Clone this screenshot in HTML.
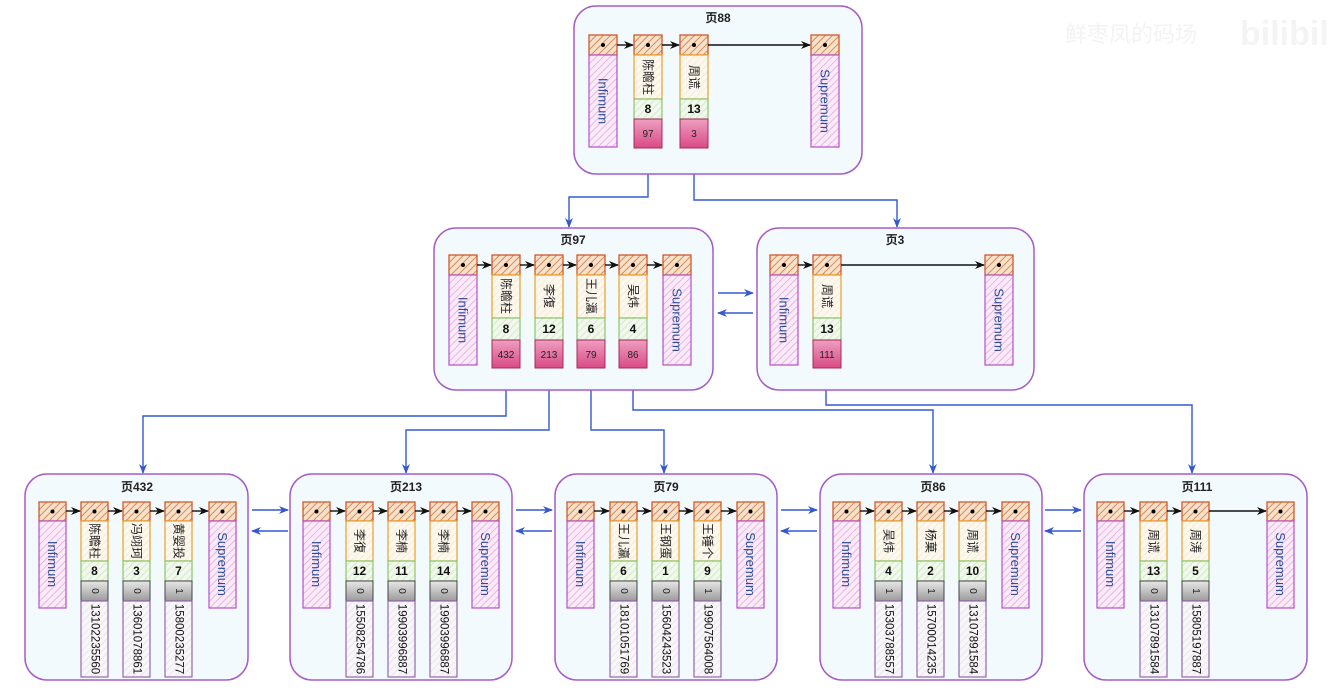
<!DOCTYPE html>
<html><head><meta charset="utf-8"><style>
html,body{margin:0;padding:0;background:#fff;}
svg{display:block;font-family:"Liberation Sans","Noto Sans CJK SC",sans-serif;}
.pg{fill:#f3fafe;stroke:#a65cc6;stroke-width:1.5;}
.h{fill:url(#ho);stroke:#d4582a;stroke-width:1.3;}
.inf{fill:url(#hp);stroke:#b552c8;stroke-width:1.2;}
.nm{fill:url(#hy);stroke:#e8a22a;stroke-width:1.2;}
.gr{fill:url(#hg);stroke:#8cc46c;stroke-width:1.2;}
.pk{fill:url(#pk);stroke:#a82a58;stroke-width:1;}
.gy{fill:url(#gy);stroke:#444;stroke-width:1;}
.ph{fill:url(#hl);stroke:#8a5aa8;stroke-width:1.1;}
.t{font-size:12px;fill:#222;}
.b{font-size:12px;font-weight:bold;fill:#111;}
.s{font-size:10px;fill:#222;}
.ph + text{font-size:11.5px;fill:#111;}
.bl{font-size:13px;fill:#2a4e9a;}
.ti{font-size:12px;fill:#222;font-weight:bold;}
.lk{stroke:#111;stroke-width:1.4;fill:none;marker-end:url(#ab);}
.cn{stroke:#3358d0;stroke-width:1.4;fill:none;marker-end:url(#au);}
</style></head><body>
<svg width="1331" height="690" viewBox="0 0 1331 690" xmlns="http://www.w3.org/2000/svg">
<defs>
<pattern id="ho" width="5" height="5" patternUnits="userSpaceOnUse" patternTransform="rotate(45)"><rect width="5" height="5" fill="#f6e2cc"/><line x1="0" y1="0" x2="0" y2="5" stroke="#d98a52" stroke-width="2"/></pattern>
<pattern id="hp" width="5" height="5" patternUnits="userSpaceOnUse" patternTransform="rotate(45)"><rect width="5" height="5" fill="#fbeaf8"/><line x1="0" y1="0" x2="0" y2="5" stroke="#e2a6df" stroke-width="1.5"/></pattern>
<pattern id="hy" width="5" height="5" patternUnits="userSpaceOnUse" patternTransform="rotate(45)"><rect width="5" height="5" fill="#fdf8ee"/><line x1="0" y1="0" x2="0" y2="5" stroke="#f1e4cc" stroke-width="1.2"/></pattern>
<pattern id="hg" width="5" height="5" patternUnits="userSpaceOnUse" patternTransform="rotate(45)"><rect width="5" height="5" fill="#f1f8ec"/><line x1="0" y1="0" x2="0" y2="5" stroke="#cfe3c3" stroke-width="1.5"/></pattern>
<pattern id="hl" width="5" height="5" patternUnits="userSpaceOnUse" patternTransform="rotate(45)"><rect width="5" height="5" fill="#f8f6f8"/><line x1="0" y1="0" x2="0" y2="5" stroke="#e2dde2" stroke-width="1.2"/></pattern>
<linearGradient id="pk" x1="0" y1="0" x2="0" y2="1"><stop offset="0" stop-color="#ee9fc0"/><stop offset="1" stop-color="#d94a86"/></linearGradient>
<linearGradient id="gy" x1="0" y1="0" x2="0" y2="1"><stop offset="0" stop-color="#e8e8e8"/><stop offset="1" stop-color="#9a9a9a"/></linearGradient>
<marker id="ab" markerWidth="10" markerHeight="8" refX="9" refY="4" orient="auto" markerUnits="userSpaceOnUse"><path d="M0,0 L10,4 L0,8 L3,4 z" fill="#111"/></marker>
<marker id="au" markerWidth="10" markerHeight="8" refX="9" refY="4" orient="auto" markerUnits="userSpaceOnUse"><path d="M0,0 L10,4 L0,8 L3,4 z" fill="#3358d0"/></marker>
</defs>

<text x="1065" y="42" font-size="22" fill="#f3f3f3">鲜枣凤的码场</text>
<text x="1240" y="45" font-size="34" font-weight="bold" fill="#f4f4f4">bilibili</text>

<path class="cn" d="M648,148 V197 H569 V227"/>
<path class="cn" d="M694,148 V200 H897 V227"/>
<path class="cn" d="M506,368 V416 H143 V473"/>
<path class="cn" d="M549,368 V430 H406 V473"/>
<path class="cn" d="M591,368 V430 H664 V473"/>
<path class="cn" d="M633,368 V410 H933 V473"/>
<path class="cn" d="M826,368 V405 H1192 V473"/>
<path class="cn" d="M718,293 H753"/><path class="cn" d="M753,313 H718"/>
<path class="cn" d="M252,510 H288"/><path class="cn" d="M288,531 H252"/>
<path class="cn" d="M516,510 H552"/><path class="cn" d="M552,531 H516"/>
<path class="cn" d="M781,510 H817"/><path class="cn" d="M817,531 H781"/>
<path class="cn" d="M1045,510 H1081"/><path class="cn" d="M1081,531 H1045"/>

<rect class="pg" x="574" y="6" width="288" height="168" rx="22"/>
<text class="ti" x="718" y="22" text-anchor="middle">页88</text>
<g transform="translate(589,35)"><rect class="h" width="28" height="20"/><circle cx="14" cy="10" r="2" fill="#000"/><rect class="inf" y="20" width="28" height="92"/><text class="bl" transform="translate(14,66) rotate(90)" text-anchor="middle" dominant-baseline="central">Infimum</text></g>
<g transform="translate(634,35)"><rect class="h" width="28" height="20"/><circle cx="14" cy="10" r="2" fill="#000"/><rect class="nm" y="20" width="28" height="44"/><text class="t" transform="translate(14,42) rotate(90)" text-anchor="middle" dominant-baseline="central">陈瞻柱</text><rect class="gr" y="64" width="28" height="20"/><text class="b" x="14" y="78" text-anchor="middle">8</text><rect class="pk" y="84" width="28" height="29"/><text class="s" x="14" y="102" text-anchor="middle">97</text></g>
<g transform="translate(680,35)"><rect class="h" width="28" height="20"/><circle cx="14" cy="10" r="2" fill="#000"/><rect class="nm" y="20" width="28" height="44"/><text class="t" transform="translate(14,42) rotate(90)" text-anchor="middle" dominant-baseline="central">周谎</text><rect class="gr" y="64" width="28" height="20"/><text class="b" x="14" y="78" text-anchor="middle">13</text><rect class="pk" y="84" width="28" height="29"/><text class="s" x="14" y="102" text-anchor="middle">3</text></g>
<g transform="translate(811,35)"><rect class="h" width="28" height="20"/><circle cx="14" cy="10" r="2" fill="#000"/><rect class="inf" y="20" width="28" height="92"/><text class="bl" transform="translate(14,66) rotate(90)" text-anchor="middle" dominant-baseline="central">Supremum</text></g>
<path class="lk" d="M617,45 H633"/><path class="lk" d="M662,45 H679"/><path class="lk" d="M708,45 H810"/>

<rect class="pg" x="434" y="228" width="279" height="162" rx="22"/>
<text class="ti" x="573" y="244" text-anchor="middle">页97</text>
<g transform="translate(449,255)"><rect class="h" width="28" height="20"/><circle cx="14" cy="10" r="2" fill="#000"/><rect class="inf" y="20" width="28" height="90"/><text class="bl" transform="translate(14,65) rotate(90)" text-anchor="middle" dominant-baseline="central">Infimum</text></g>
<g transform="translate(492,255)"><rect class="h" width="28" height="20"/><circle cx="14" cy="10" r="2" fill="#000"/><rect class="nm" y="20" width="28" height="43"/><text class="t" transform="translate(14,41) rotate(90)" text-anchor="middle" dominant-baseline="central">陈瞻柱</text><rect class="gr" y="63" width="28" height="22"/><text class="b" x="14" y="78" text-anchor="middle">8</text><rect class="pk" y="85" width="28" height="28"/><text class="s" x="14" y="103" text-anchor="middle">432</text></g>
<g transform="translate(535,255)"><rect class="h" width="28" height="20"/><circle cx="14" cy="10" r="2" fill="#000"/><rect class="nm" y="20" width="28" height="43"/><text class="t" transform="translate(14,41) rotate(90)" text-anchor="middle" dominant-baseline="central">李復</text><rect class="gr" y="63" width="28" height="22"/><text class="b" x="14" y="78" text-anchor="middle">12</text><rect class="pk" y="85" width="28" height="28"/><text class="s" x="14" y="103" text-anchor="middle">213</text></g>
<g transform="translate(577,255)"><rect class="h" width="28" height="20"/><circle cx="14" cy="10" r="2" fill="#000"/><rect class="nm" y="20" width="28" height="43"/><text class="t" transform="translate(14,41) rotate(90)" text-anchor="middle" dominant-baseline="central">王儿瀛</text><rect class="gr" y="63" width="28" height="22"/><text class="b" x="14" y="78" text-anchor="middle">6</text><rect class="pk" y="85" width="28" height="28"/><text class="s" x="14" y="103" text-anchor="middle">79</text></g>
<g transform="translate(619,255)"><rect class="h" width="28" height="20"/><circle cx="14" cy="10" r="2" fill="#000"/><rect class="nm" y="20" width="28" height="43"/><text class="t" transform="translate(14,41) rotate(90)" text-anchor="middle" dominant-baseline="central">吴炜</text><rect class="gr" y="63" width="28" height="22"/><text class="b" x="14" y="78" text-anchor="middle">4</text><rect class="pk" y="85" width="28" height="28"/><text class="s" x="14" y="103" text-anchor="middle">86</text></g>
<g transform="translate(663,255)"><rect class="h" width="28" height="20"/><circle cx="14" cy="10" r="2" fill="#000"/><rect class="inf" y="20" width="28" height="90"/><text class="bl" transform="translate(14,65) rotate(90)" text-anchor="middle" dominant-baseline="central">Supremum</text></g>
<path class="lk" d="M477,265 H491"/><path class="lk" d="M520,265 H534"/><path class="lk" d="M563,265 H576"/><path class="lk" d="M605,265 H618"/><path class="lk" d="M647,265 H662"/>

<rect class="pg" x="757" y="228" width="277" height="162" rx="22"/>
<text class="ti" x="895" y="244" text-anchor="middle">页3</text>
<g transform="translate(770,255)"><rect class="h" width="28" height="20"/><circle cx="14" cy="10" r="2" fill="#000"/><rect class="inf" y="20" width="28" height="90"/><text class="bl" transform="translate(14,65) rotate(90)" text-anchor="middle" dominant-baseline="central">Infimum</text></g>
<g transform="translate(813,255)"><rect class="h" width="28" height="20"/><circle cx="14" cy="10" r="2" fill="#000"/><rect class="nm" y="20" width="28" height="43"/><text class="t" transform="translate(14,41) rotate(90)" text-anchor="middle" dominant-baseline="central">周谎</text><rect class="gr" y="63" width="28" height="22"/><text class="b" x="14" y="78" text-anchor="middle">13</text><rect class="pk" y="85" width="28" height="28"/><text class="s" x="14" y="103" text-anchor="middle">111</text></g>
<g transform="translate(985,255)"><rect class="h" width="28" height="20"/><circle cx="14" cy="10" r="2" fill="#000"/><rect class="inf" y="20" width="28" height="90"/><text class="bl" transform="translate(14,65) rotate(90)" text-anchor="middle" dominant-baseline="central">Supremum</text></g>
<path class="lk" d="M798,265 H812"/><path class="lk" d="M841,265 H984"/>

<rect class="pg" x="25" y="474" width="223" height="206" rx="22"/>
<text class="ti" x="137" y="491" text-anchor="middle">页432</text>
<g transform="translate(39,502)"><rect class="h" width="27" height="19"/><circle cx="13.5" cy="9.5" r="2" fill="#000"/><rect class="inf" y="19" width="27" height="87"/><text class="bl" transform="translate(13.5,62) rotate(90)" text-anchor="middle" dominant-baseline="central">Infimum</text></g>
<g transform="translate(81,502)"><rect class="h" width="27" height="19"/><circle cx="13.5" cy="9.5" r="2" fill="#000"/><rect class="nm" y="19" width="27" height="40"/><text class="t" transform="translate(13.5,39) rotate(90)" text-anchor="middle" dominant-baseline="central">陈瞻柱</text><rect class="gr" y="59" width="27" height="20"/><text class="b" x="13.5" y="73" text-anchor="middle">8</text><rect class="gy" y="79" width="27" height="20"/><text class="s" transform="translate(13.5,89) rotate(90)" text-anchor="middle" dominant-baseline="central">0</text><rect class="ph" y="99" width="27" height="76"/><text class="s" transform="translate(13.5,137) rotate(90)" text-anchor="middle" dominant-baseline="central">13102235560</text></g>
<g transform="translate(123,502)"><rect class="h" width="27" height="19"/><circle cx="13.5" cy="9.5" r="2" fill="#000"/><rect class="nm" y="19" width="27" height="40"/><text class="t" transform="translate(13.5,39) rotate(90)" text-anchor="middle" dominant-baseline="central">冯翊珂</text><rect class="gr" y="59" width="27" height="20"/><text class="b" x="13.5" y="73" text-anchor="middle">3</text><rect class="gy" y="79" width="27" height="20"/><text class="s" transform="translate(13.5,89) rotate(90)" text-anchor="middle" dominant-baseline="central">0</text><rect class="ph" y="99" width="27" height="76"/><text class="s" transform="translate(13.5,137) rotate(90)" text-anchor="middle" dominant-baseline="central">13601078861</text></g>
<g transform="translate(165,502)"><rect class="h" width="27" height="19"/><circle cx="13.5" cy="9.5" r="2" fill="#000"/><rect class="nm" y="19" width="27" height="40"/><text class="t" transform="translate(13.5,39) rotate(90)" text-anchor="middle" dominant-baseline="central">黄婴投</text><rect class="gr" y="59" width="27" height="20"/><text class="b" x="13.5" y="73" text-anchor="middle">7</text><rect class="gy" y="79" width="27" height="20"/><text class="s" transform="translate(13.5,89) rotate(90)" text-anchor="middle" dominant-baseline="central">1</text><rect class="ph" y="99" width="27" height="76"/><text class="s" transform="translate(13.5,137) rotate(90)" text-anchor="middle" dominant-baseline="central">15800235277</text></g>
<g transform="translate(209,502)"><rect class="h" width="27" height="19"/><circle cx="13.5" cy="9.5" r="2" fill="#000"/><rect class="inf" y="19" width="27" height="87"/><text class="bl" transform="translate(13.5,62) rotate(90)" text-anchor="middle" dominant-baseline="central">Supremum</text></g>
<path class="lk" d="M66,511 H80"/><path class="lk" d="M108,511 H122"/><path class="lk" d="M150,511 H164"/><path class="lk" d="M192,511 H208"/>

<rect class="pg" x="290" y="474" width="222" height="206" rx="22"/>
<text class="ti" x="406" y="491" text-anchor="middle">页213</text>
<g transform="translate(303,502)"><rect class="h" width="27" height="19"/><circle cx="13.5" cy="9.5" r="2" fill="#000"/><rect class="inf" y="19" width="27" height="87"/><text class="bl" transform="translate(13.5,62) rotate(90)" text-anchor="middle" dominant-baseline="central">Infimum</text></g>
<g transform="translate(346,502)"><rect class="h" width="27" height="19"/><circle cx="13.5" cy="9.5" r="2" fill="#000"/><rect class="nm" y="19" width="27" height="40"/><text class="t" transform="translate(13.5,39) rotate(90)" text-anchor="middle" dominant-baseline="central">李復</text><rect class="gr" y="59" width="27" height="20"/><text class="b" x="13.5" y="73" text-anchor="middle">12</text><rect class="gy" y="79" width="27" height="20"/><text class="s" transform="translate(13.5,89) rotate(90)" text-anchor="middle" dominant-baseline="central">0</text><rect class="ph" y="99" width="27" height="76"/><text class="s" transform="translate(13.5,137) rotate(90)" text-anchor="middle" dominant-baseline="central">15508254786</text></g>
<g transform="translate(388,502)"><rect class="h" width="27" height="19"/><circle cx="13.5" cy="9.5" r="2" fill="#000"/><rect class="nm" y="19" width="27" height="40"/><text class="t" transform="translate(13.5,39) rotate(90)" text-anchor="middle" dominant-baseline="central">李楠</text><rect class="gr" y="59" width="27" height="20"/><text class="b" x="13.5" y="73" text-anchor="middle">11</text><rect class="gy" y="79" width="27" height="20"/><text class="s" transform="translate(13.5,89) rotate(90)" text-anchor="middle" dominant-baseline="central">0</text><rect class="ph" y="99" width="27" height="76"/><text class="s" transform="translate(13.5,137) rotate(90)" text-anchor="middle" dominant-baseline="central">19903996887</text></g>
<g transform="translate(430,502)"><rect class="h" width="27" height="19"/><circle cx="13.5" cy="9.5" r="2" fill="#000"/><rect class="nm" y="19" width="27" height="40"/><text class="t" transform="translate(13.5,39) rotate(90)" text-anchor="middle" dominant-baseline="central">李楠</text><rect class="gr" y="59" width="27" height="20"/><text class="b" x="13.5" y="73" text-anchor="middle">14</text><rect class="gy" y="79" width="27" height="20"/><text class="s" transform="translate(13.5,89) rotate(90)" text-anchor="middle" dominant-baseline="central">0</text><rect class="ph" y="99" width="27" height="76"/><text class="s" transform="translate(13.5,137) rotate(90)" text-anchor="middle" dominant-baseline="central">19903996887</text></g>
<g transform="translate(472,502)"><rect class="h" width="27" height="19"/><circle cx="13.5" cy="9.5" r="2" fill="#000"/><rect class="inf" y="19" width="27" height="87"/><text class="bl" transform="translate(13.5,62) rotate(90)" text-anchor="middle" dominant-baseline="central">Supremum</text></g>
<path class="lk" d="M330,511 H345"/><path class="lk" d="M373,511 H387"/><path class="lk" d="M415,511 H429"/><path class="lk" d="M457,511 H471"/>

<rect class="pg" x="555" y="474" width="222" height="206" rx="22"/>
<text class="ti" x="666" y="491" text-anchor="middle">页79</text>
<g transform="translate(567,502)"><rect class="h" width="27" height="19"/><circle cx="13.5" cy="9.5" r="2" fill="#000"/><rect class="inf" y="19" width="27" height="87"/><text class="bl" transform="translate(13.5,62) rotate(90)" text-anchor="middle" dominant-baseline="central">Infimum</text></g>
<g transform="translate(610,502)"><rect class="h" width="27" height="19"/><circle cx="13.5" cy="9.5" r="2" fill="#000"/><rect class="nm" y="19" width="27" height="40"/><text class="t" transform="translate(13.5,39) rotate(90)" text-anchor="middle" dominant-baseline="central">王儿瀛</text><rect class="gr" y="59" width="27" height="20"/><text class="b" x="13.5" y="73" text-anchor="middle">6</text><rect class="gy" y="79" width="27" height="20"/><text class="s" transform="translate(13.5,89) rotate(90)" text-anchor="middle" dominant-baseline="central">0</text><rect class="ph" y="99" width="27" height="76"/><text class="s" transform="translate(13.5,137) rotate(90)" text-anchor="middle" dominant-baseline="central">18101051769</text></g>
<g transform="translate(652,502)"><rect class="h" width="27" height="19"/><circle cx="13.5" cy="9.5" r="2" fill="#000"/><rect class="nm" y="19" width="27" height="40"/><text class="t" transform="translate(13.5,39) rotate(90)" text-anchor="middle" dominant-baseline="central">王钢蛋</text><rect class="gr" y="59" width="27" height="20"/><text class="b" x="13.5" y="73" text-anchor="middle">1</text><rect class="gy" y="79" width="27" height="20"/><text class="s" transform="translate(13.5,89) rotate(90)" text-anchor="middle" dominant-baseline="central">0</text><rect class="ph" y="99" width="27" height="76"/><text class="s" transform="translate(13.5,137) rotate(90)" text-anchor="middle" dominant-baseline="central">15604243523</text></g>
<g transform="translate(694,502)"><rect class="h" width="27" height="19"/><circle cx="13.5" cy="9.5" r="2" fill="#000"/><rect class="nm" y="19" width="27" height="40"/><text class="t" transform="translate(13.5,39) rotate(90)" text-anchor="middle" dominant-baseline="central">王锤个</text><rect class="gr" y="59" width="27" height="20"/><text class="b" x="13.5" y="73" text-anchor="middle">9</text><rect class="gy" y="79" width="27" height="20"/><text class="s" transform="translate(13.5,89) rotate(90)" text-anchor="middle" dominant-baseline="central">1</text><rect class="ph" y="99" width="27" height="76"/><text class="s" transform="translate(13.5,137) rotate(90)" text-anchor="middle" dominant-baseline="central">19907564008</text></g>
<g transform="translate(737,502)"><rect class="h" width="27" height="19"/><circle cx="13.5" cy="9.5" r="2" fill="#000"/><rect class="inf" y="19" width="27" height="87"/><text class="bl" transform="translate(13.5,62) rotate(90)" text-anchor="middle" dominant-baseline="central">Supremum</text></g>
<path class="lk" d="M594,511 H609"/><path class="lk" d="M637,511 H651"/><path class="lk" d="M679,511 H693"/><path class="lk" d="M721,511 H736"/>

<rect class="pg" x="820" y="474" width="222" height="206" rx="22"/>
<text class="ti" x="933" y="491" text-anchor="middle">页86</text>
<g transform="translate(833,502)"><rect class="h" width="27" height="19"/><circle cx="13.5" cy="9.5" r="2" fill="#000"/><rect class="inf" y="19" width="27" height="87"/><text class="bl" transform="translate(13.5,62) rotate(90)" text-anchor="middle" dominant-baseline="central">Infimum</text></g>
<g transform="translate(875,502)"><rect class="h" width="27" height="19"/><circle cx="13.5" cy="9.5" r="2" fill="#000"/><rect class="nm" y="19" width="27" height="40"/><text class="t" transform="translate(13.5,39) rotate(90)" text-anchor="middle" dominant-baseline="central">吴炜</text><rect class="gr" y="59" width="27" height="20"/><text class="b" x="13.5" y="73" text-anchor="middle">4</text><rect class="gy" y="79" width="27" height="20"/><text class="s" transform="translate(13.5,89) rotate(90)" text-anchor="middle" dominant-baseline="central">1</text><rect class="ph" y="99" width="27" height="76"/><text class="s" transform="translate(13.5,137) rotate(90)" text-anchor="middle" dominant-baseline="central">15303788557</text></g>
<g transform="translate(917,502)"><rect class="h" width="27" height="19"/><circle cx="13.5" cy="9.5" r="2" fill="#000"/><rect class="nm" y="19" width="27" height="40"/><text class="t" transform="translate(13.5,39) rotate(90)" text-anchor="middle" dominant-baseline="central">杨菓</text><rect class="gr" y="59" width="27" height="20"/><text class="b" x="13.5" y="73" text-anchor="middle">2</text><rect class="gy" y="79" width="27" height="20"/><text class="s" transform="translate(13.5,89) rotate(90)" text-anchor="middle" dominant-baseline="central">1</text><rect class="ph" y="99" width="27" height="76"/><text class="s" transform="translate(13.5,137) rotate(90)" text-anchor="middle" dominant-baseline="central">15700014235</text></g>
<g transform="translate(959,502)"><rect class="h" width="27" height="19"/><circle cx="13.5" cy="9.5" r="2" fill="#000"/><rect class="nm" y="19" width="27" height="40"/><text class="t" transform="translate(13.5,39) rotate(90)" text-anchor="middle" dominant-baseline="central">周谎</text><rect class="gr" y="59" width="27" height="20"/><text class="b" x="13.5" y="73" text-anchor="middle">10</text><rect class="gy" y="79" width="27" height="20"/><text class="s" transform="translate(13.5,89) rotate(90)" text-anchor="middle" dominant-baseline="central">0</text><rect class="ph" y="99" width="27" height="76"/><text class="s" transform="translate(13.5,137) rotate(90)" text-anchor="middle" dominant-baseline="central">13107891584</text></g>
<g transform="translate(1002,502)"><rect class="h" width="27" height="19"/><circle cx="13.5" cy="9.5" r="2" fill="#000"/><rect class="inf" y="19" width="27" height="87"/><text class="bl" transform="translate(13.5,62) rotate(90)" text-anchor="middle" dominant-baseline="central">Supremum</text></g>
<path class="lk" d="M860,511 H874"/><path class="lk" d="M902,511 H916"/><path class="lk" d="M944,511 H958"/><path class="lk" d="M986,511 H1001"/>

<rect class="pg" x="1084" y="474" width="223" height="206" rx="22"/>
<text class="ti" x="1197" y="491" text-anchor="middle">页111</text>
<g transform="translate(1097,502)"><rect class="h" width="27" height="19"/><circle cx="13.5" cy="9.5" r="2" fill="#000"/><rect class="inf" y="19" width="27" height="87"/><text class="bl" transform="translate(13.5,62) rotate(90)" text-anchor="middle" dominant-baseline="central">Infimum</text></g>
<g transform="translate(1140,502)"><rect class="h" width="27" height="19"/><circle cx="13.5" cy="9.5" r="2" fill="#000"/><rect class="nm" y="19" width="27" height="40"/><text class="t" transform="translate(13.5,39) rotate(90)" text-anchor="middle" dominant-baseline="central">周谎</text><rect class="gr" y="59" width="27" height="20"/><text class="b" x="13.5" y="73" text-anchor="middle">13</text><rect class="gy" y="79" width="27" height="20"/><text class="s" transform="translate(13.5,89) rotate(90)" text-anchor="middle" dominant-baseline="central">0</text><rect class="ph" y="99" width="27" height="76"/><text class="s" transform="translate(13.5,137) rotate(90)" text-anchor="middle" dominant-baseline="central">13107891584</text></g>
<g transform="translate(1182,502)"><rect class="h" width="27" height="19"/><circle cx="13.5" cy="9.5" r="2" fill="#000"/><rect class="nm" y="19" width="27" height="40"/><text class="t" transform="translate(13.5,39) rotate(90)" text-anchor="middle" dominant-baseline="central">周涛</text><rect class="gr" y="59" width="27" height="20"/><text class="b" x="13.5" y="73" text-anchor="middle">5</text><rect class="gy" y="79" width="27" height="20"/><text class="s" transform="translate(13.5,89) rotate(90)" text-anchor="middle" dominant-baseline="central">1</text><rect class="ph" y="99" width="27" height="76"/><text class="s" transform="translate(13.5,137) rotate(90)" text-anchor="middle" dominant-baseline="central">15805197887</text></g>
<g transform="translate(1267,502)"><rect class="h" width="27" height="19"/><circle cx="13.5" cy="9.5" r="2" fill="#000"/><rect class="inf" y="19" width="27" height="87"/><text class="bl" transform="translate(13.5,62) rotate(90)" text-anchor="middle" dominant-baseline="central">Supremum</text></g>
<path class="lk" d="M1124,511 H1139"/><path class="lk" d="M1167,511 H1181"/><path class="lk" d="M1209,511 H1266"/>
</svg>
</body></html>
